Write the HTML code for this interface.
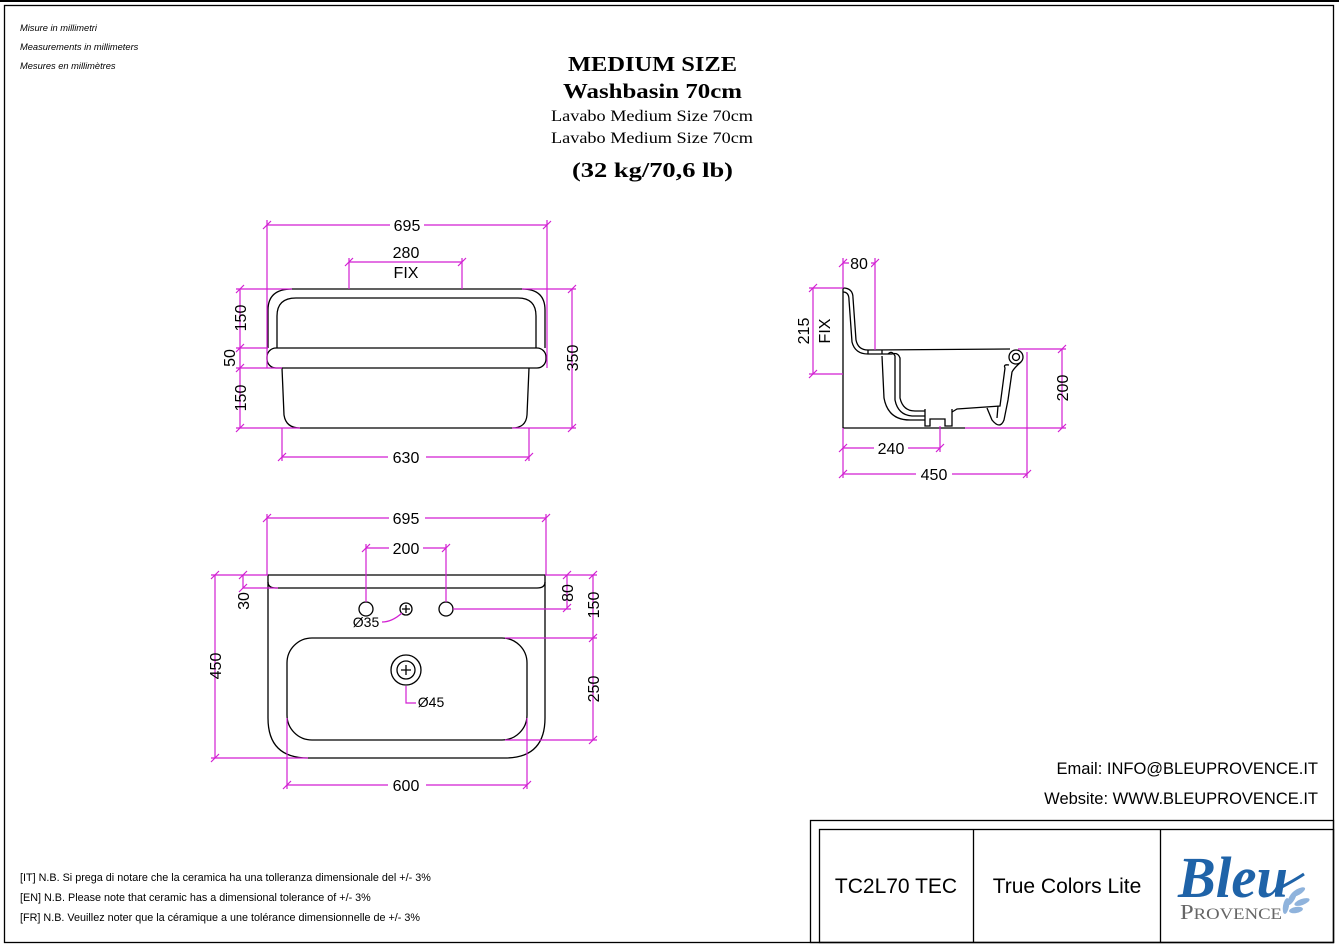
<!DOCTYPE html>
<html><head><meta charset="utf-8"><style>
html,body{margin:0;padding:0;background:#fff}
svg{display:block}
.d{stroke:#d21fd2;stroke-width:1.2;fill:none}
.o{stroke:#000;stroke-width:1.3;fill:none}
.t{font-family:"Liberation Sans",sans-serif;font-size:16px;fill:#000}
.s{font-family:"Liberation Serif",serif;fill:#000}
</style></head><body>
<svg width="1339" height="948" viewBox="0 0 1339 948" xmlns="http://www.w3.org/2000/svg">
<rect x="0" y="0" width="1339" height="948" fill="#fff"/>
<line x1="0" y1="1" x2="1339" y2="1" stroke="#000" stroke-width="2"/>
<rect x="4.5" y="5.5" width="1329" height="937" fill="none" stroke="#000" stroke-width="1.3"/>
<g font-family="Liberation Sans, sans-serif" font-style="italic" font-size="9.3" fill="#000">
<text x="20" y="31">Misure in millimetri</text>
<text x="20" y="50">Measurements in millimeters</text>
<text x="20" y="69">Mesures en millimètres</text>
</g>
<g class="s">
<text x="568" y="71" style="font-size:21px" font-weight="bold" textLength="169" lengthAdjust="spacingAndGlyphs">MEDIUM SIZE</text>
<text x="563" y="98" style="font-size:21px" font-weight="bold" textLength="179" lengthAdjust="spacingAndGlyphs">Washbasin 70cm</text>
<text x="551" y="121" style="font-size:16px" textLength="202" lengthAdjust="spacingAndGlyphs">Lavabo Medium Size 70cm</text>
<text x="551" y="143" style="font-size:16px" textLength="202" lengthAdjust="spacingAndGlyphs">Lavabo Medium Size 70cm</text>
<text x="572" y="177" style="font-size:21px" font-weight="bold" textLength="161" lengthAdjust="spacingAndGlyphs">(32 kg/70,6 lb)</text>
</g>

<!-- FRONT VIEW -->
<g class="o">
<path d="M268,348 L268,310 Q268,289 292,289 L522,289 Q545,289 545,310 L545,348"/>
<path d="M277,348 L277,316 Q277,298 296,298 L518,298 Q536,298 536,316 L536,348"/>
<rect x="267" y="348" width="279" height="20" rx="9"/>
<path d="M282,368 L284,415 Q286,428 300,428 L512,428 Q526,428 527,415 L529,368"/>
</g>
<g class="d">
<line x1="267" y1="225" x2="547" y2="225"/><line x1="267" y1="220" x2="267" y2="368"/><line x1="547" y1="220" x2="547" y2="368"/>
<line x1="349" y1="262" x2="462" y2="262"/><line x1="349" y1="258" x2="349" y2="289"/><line x1="462" y1="258" x2="462" y2="289"/>
<line x1="240" y1="289" x2="240" y2="428"/>
<line x1="236" y1="289" x2="292" y2="289"/><line x1="236" y1="348" x2="268" y2="348"/><line x1="236" y1="368" x2="282" y2="368"/><line x1="236" y1="428" x2="300" y2="428"/>
<line x1="572" y1="289" x2="572" y2="428"/><line x1="522" y1="289" x2="576" y2="289"/><line x1="512" y1="428" x2="576" y2="428"/>
<line x1="282" y1="457" x2="529" y2="457"/><line x1="282" y1="428" x2="282" y2="461"/><line x1="529" y1="428" x2="529" y2="461"/>
<path d="M263,229 l8,-8 M543,229 l8,-8 M345,266 l8,-8 M458,266 l8,-8 M236,293 l8,-8 M236,352 l8,-8 M236,372 l8,-8 M236,432 l8,-8 M568,293 l8,-8 M568,432 l8,-8 M278,461 l8,-8 M525,461 l8,-8"/>
</g>
<g class="t" text-anchor="middle">
<rect x="390" y="216" width="34" height="16" fill="#fff"/><text x="407" y="231">695</text>
<text x="406" y="258">280</text><text x="406" y="278">FIX</text>
<rect x="388" y="449" width="38" height="16" fill="#fff"/><text x="406" y="463">630</text>
<text transform="translate(246,318) rotate(-90)">150</text>
<text transform="translate(235,358) rotate(-90)">50</text>
<text transform="translate(246,398) rotate(-90)">150</text>
<text transform="translate(578,358) rotate(-90)">350</text>
</g>

<!-- SIDE VIEW -->
<g class="o">
<line x1="843" y1="288" x2="843" y2="428"/>
<line x1="843" y1="428" x2="965" y2="428"/>
<path d="M843,288 Q853,288 853,298 L856,340 Q858,350 868,350 L1010,349"/>
<path d="M843,292 Q849,292 849,300 L852,342 Q855,354 868,354 L892,354"/>
<path d="M868,350 v4 M882,350 v4"/>
<path d="M892,354 Q898,352 900,358 L900,398 Q903,411 915,411 L925,411"/>
<path d="M888,354 Q892,350 895,356 L895,400 Q898,415 912,416 L925,416"/>
<path d="M882,356 L884,398 Q888,420 910,420 L925,420"/>
<path d="M925,409 L925,426 L930,426 L930,419 L945,419 L945,426 L952,426 L952,409"/>
<path d="M952,412 L957,409 L1000,406 L1005,368 Q1003,364 1009,365"/>
<circle cx="1016" cy="357" r="7"/>
<circle cx="1016" cy="357" r="3.5"/>
<path d="M1021,362 Q1014,368 1012,372 L1008,400 L1004,420 Q1000,430 992,420 L987,408"/>
<path d="M998,406 L997,418"/>
</g>
<g class="d">
<line x1="843" y1="263" x2="875" y2="263"/><line x1="843" y1="258" x2="843" y2="288"/><line x1="875" y1="258" x2="875" y2="350"/>
<line x1="813" y1="288" x2="813" y2="374"/><line x1="809" y1="288" x2="843" y2="288"/><line x1="809" y1="374" x2="843" y2="374"/>
<line x1="1062" y1="349" x2="1062" y2="428"/><line x1="1018" y1="349" x2="1066" y2="349"/><line x1="965" y1="428" x2="1066" y2="428"/>
<line x1="843" y1="448" x2="940" y2="448"/><line x1="940" y1="426" x2="940" y2="452"/>
<line x1="843" y1="474" x2="1027" y2="474"/><line x1="843" y1="428" x2="843" y2="478"/><line x1="1027" y1="352" x2="1027" y2="478"/>
<path d="M839,267 l8,-8 M871,267 l8,-8 M809,292 l8,-8 M809,378 l8,-8 M1058,353 l8,-8 M1058,432 l8,-8 M839,452 l8,-8 M936,452 l8,-8 M839,478 l8,-8 M1023,478 l8,-8"/>
</g>
<g class="t" text-anchor="middle">
<rect x="849" y="256" width="22" height="14" fill="#fff"/><text x="859" y="269">80</text>
<text transform="translate(809,331) rotate(-90)">215</text>
<text transform="translate(830,331) rotate(-90)">FIX</text>
<text transform="translate(1068,388) rotate(-90)">200</text>
<rect x="874" y="440" width="34" height="16" fill="#fff"/><text x="891" y="454">240</text>
<rect x="916" y="466" width="36" height="16" fill="#fff"/><text x="934" y="480">450</text>
</g>

<!-- TOP VIEW -->
<g class="o">
<path d="M268,575 L545,575 L545,718 Q545,758 505,758 L308,758 Q268,758 268,718 Z"/>
<path d="M268,582 Q268,588 276,588 L537,588 Q545,588 545,582"/>
<rect x="287" y="638" width="240" height="102" rx="25"/>
<circle cx="366" cy="609" r="7"/>
<circle cx="446" cy="609" r="7"/>
<circle cx="406" cy="609" r="6"/>
<path d="M402,609 h8 M406,605 v8"/>
<circle cx="406" cy="670" r="15"/>
<circle cx="406" cy="670" r="9"/>
<path d="M401,670 h10 M406,665 v10"/>
</g>
<g class="d">
<line x1="267" y1="518" x2="546" y2="518"/><line x1="267" y1="514" x2="267" y2="575"/><line x1="546" y1="514" x2="546" y2="575"/>
<line x1="366" y1="548" x2="446" y2="548"/><line x1="366" y1="544" x2="366" y2="602"/><line x1="446" y1="544" x2="446" y2="602"/>
<line x1="215" y1="575" x2="215" y2="758"/><line x1="211" y1="575" x2="268" y2="575"/><line x1="211" y1="758" x2="308" y2="758"/>
<line x1="243" y1="575" x2="243" y2="588"/><line x1="243" y1="588" x2="278" y2="588"/>
<line x1="567" y1="575" x2="567" y2="608"/><line x1="545" y1="575" x2="597" y2="575"/><line x1="453" y1="609" x2="571" y2="609"/>
<line x1="593" y1="575" x2="593" y2="740"/><line x1="505" y1="638" x2="597" y2="638"/><line x1="505" y1="740" x2="597" y2="740"/>
<line x1="287" y1="785" x2="527" y2="785"/><line x1="287" y1="718" x2="287" y2="789"/><line x1="527" y1="718" x2="527" y2="789"/>
<path d="M382,622 Q392,622 402,613"/>
<path d="M406,686 v17 h10"/>
<path d="M263,522 l8,-8 M542,522 l8,-8 M362,552 l8,-8 M442,552 l8,-8 M211,579 l8,-8 M211,762 l8,-8 M239,579 l8,-8 M239,592 l8,-8 M563,579 l8,-8 M563,612 l8,-8 M589,579 l8,-8 M589,642 l8,-8 M589,744 l8,-8 M283,789 l8,-8 M523,789 l8,-8"/>
</g>
<g class="t" text-anchor="middle">
<rect x="389" y="510" width="36" height="16" fill="#fff"/><text x="406" y="524">695</text>
<rect x="389" y="540" width="34" height="16" fill="#fff"/><text x="406" y="554">200</text>
<rect x="388" y="777" width="38" height="16" fill="#fff"/><text x="406" y="791">600</text>
<text x="366" y="627" style="font-size:14px">Ø35</text>
<text x="431" y="707" style="font-size:14px">Ø45</text>
<text transform="translate(221,666) rotate(-90)">450</text>
<text transform="translate(249,601) rotate(-90)">30</text>
<text transform="translate(573,593) rotate(-90)">80</text>
<text transform="translate(599,605) rotate(-90)">150</text>
<text transform="translate(599,689) rotate(-90)">250</text>
</g>

<g font-family="Liberation Sans, sans-serif" font-size="16.5" fill="#000" text-anchor="end">
<text x="1318" y="774">Email: INFO@BLEUPROVENCE.IT</text>
<text x="1318" y="804">Website: WWW.BLEUPROVENCE.IT</text>
</g>
<g font-family="Liberation Sans, sans-serif" font-size="10.8" fill="#000">
<text x="20" y="881">[IT] N.B. Si prega di notare che la ceramica ha una tolleranza dimensionale del +/- 3%</text>
<text x="20" y="901">[EN] N.B. Please note that ceramic has a dimensional tolerance of +/- 3%</text>
<text x="20" y="921">[FR] N.B. Veuillez noter que la céramique a une tolérance dimensionnelle de +/- 3%</text>
</g>

<!-- Title block -->
<g fill="none" stroke="#000" stroke-width="1.3">
<rect x="810.5" y="820.5" width="523" height="122"/>
<rect x="819.5" y="829.5" width="514" height="113"/>
<line x1="973.5" y1="829" x2="973.5" y2="943"/>
<line x1="1160.5" y1="829" x2="1160.5" y2="943"/>
</g>
<g font-family="Liberation Sans, sans-serif" font-size="21" fill="#000" text-anchor="middle">
<text x="896" y="893">TC2L70 TEC</text>
<text x="1067" y="893">True Colors Lite</text>
</g>
<text x="1178" y="897" font-family="Liberation Serif, serif" font-style="italic" font-weight="bold" font-size="58" fill="#1f63a8" textLength="110" lengthAdjust="spacingAndGlyphs">Bleu</text>
<path d="M1278,889 Q1295,880 1304,874" stroke="#1f63a8" stroke-width="3" fill="none"/>
<text x="1180" y="919" font-family="Liberation Serif, serif" font-size="21" fill="#666" textLength="102" lengthAdjust="spacingAndGlyphs">P<tspan font-size="16">ROVENCE</tspan></text>
<g fill="#8fb3dc">
<ellipse cx="1292" cy="898" rx="3" ry="8" transform="rotate(30 1292 898)"/>
<ellipse cx="1298" cy="892" rx="3" ry="8" transform="rotate(60 1298 892)"/>
<ellipse cx="1302" cy="902" rx="3" ry="8" transform="rotate(70 1302 902)"/>
<ellipse cx="1286" cy="906" rx="3" ry="8" transform="rotate(10 1286 906)"/>
<ellipse cx="1296" cy="910" rx="3" ry="7" transform="rotate(80 1296 910)"/>
</g>
</svg>
</body></html>
